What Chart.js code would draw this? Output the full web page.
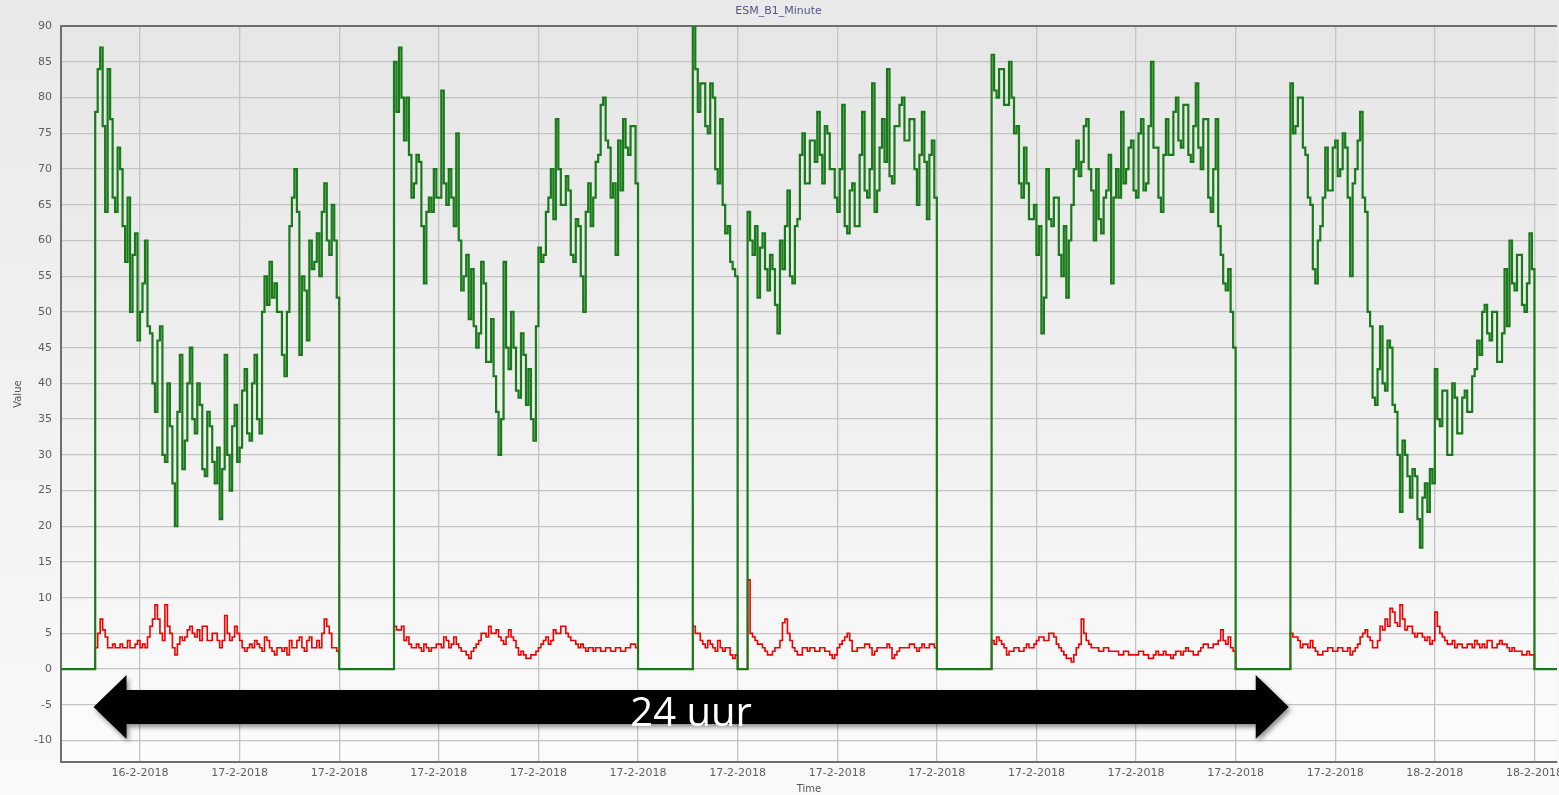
<!DOCTYPE html>
<html>
<head>
<meta charset="utf-8">
<title>ESM_B1_Minute</title>
<script src="https://cdn.jsdelivr.net/npm/chart.js@4.4.1/dist/chart.umd.min.js"></script>
<style>
    html, body { margin: 0; padding: 0; }
    body { width: 1559px; height: 795px; overflow: hidden; background: linear-gradient(#e9e9e9, #f9f9f9); }
</style>
</head>
<body>
<canvas id="chart" width="1559" height="795"></canvas>
<script>
// Minute log, every 3 minutes (t in minutes, t=0 is 16-2 20:00)
const sampleStart = 24;
const sampleStep = 3;

// green series
const greenValues = [
    0, 0, 0, 0, 0, 0, 0, 0, 0, 0, 0, 0, 0, 0,
    78, 84, 87, 76, 64, 84, 77, 66, 64, 73, 70, 62, 57, 66, 50, 58, 61, 46, 50, 54, 60, 48, 47, 40, 36, 46, 48, 30, 29, 40, 34, 26, 20, 36,
    44, 28, 32, 40, 45, 35, 33, 40, 37, 28, 27, 36, 34, 29, 26, 31, 21, 28, 44, 30, 25, 34, 37, 29, 31, 39, 42, 33, 32, 40, 44, 35, 33, 50,
    55, 51, 57, 52, 54, 50, 50, 44, 41, 50, 62, 66, 70, 64, 44, 55, 53, 46, 60, 56, 57, 61, 55, 64, 68, 60, 58, 65, 60, 52,
    0, 0, 0, 0, 0, 0, 0, 0, 0, 0, 0, 0, 0, 0, 0, 0, 0, 0, 0, 0, 0, 0,
    85, 78, 87, 80, 74, 80, 72, 66, 68, 72, 71, 62, 54, 64, 66, 64, 70, 66, 66, 81, 68, 65, 70, 66, 62, 75, 60, 53, 55, 58, 49, 56, 48, 45,
    47, 57, 54, 43, 43, 49, 41, 36, 30, 35, 57, 45, 42, 50, 45, 39, 38, 47, 44, 37, 42, 35, 32, 48, 59, 57, 58, 64, 66, 70, 63, 77, 70, 65,
    65, 69, 67, 58, 57, 63, 62, 55, 50, 64, 68, 62, 66, 71, 72, 79, 80, 74, 73, 66, 68, 58, 74, 67, 77, 73, 72, 76, 76, 68,
    0, 0, 0, 0, 0, 0, 0, 0, 0, 0, 0, 0, 0, 0, 0, 0, 0, 0, 0, 0, 0, 0,
    90, 84, 78, 82, 82, 76, 75, 82, 80, 70, 68, 77, 65, 61, 62, 57, 56, 55,
    0, 0, 0, 0,
    64, 60, 58, 62, 52, 59, 61, 56, 53, 58, 56, 51, 47, 60, 56, 62, 67, 55, 54, 62, 63, 72, 75, 68, 68, 74, 74, 71, 78, 72, 68, 76, 75, 70,
    70, 66, 64, 70, 79, 62, 61, 67, 68, 62, 62, 72, 78, 67, 66, 70, 82, 64, 67, 73, 77, 71, 84, 69, 68, 76, 76, 79, 80, 74, 74, 77, 77, 70,
    65, 72, 78, 71, 63, 72, 74, 66,
    0, 0, 0, 0, 0, 0, 0, 0, 0, 0, 0, 0, 0, 0, 0, 0, 0, 0, 0, 0, 0, 0,
    86, 81, 80, 84, 84, 79, 79, 85, 80, 75, 76, 68, 66, 73, 68, 63, 63, 65, 58, 62, 47, 52, 70, 63, 62, 66, 66, 58, 55, 62, 52, 60, 65, 70,
    74, 69, 71, 76, 77, 70, 67, 60, 70, 63, 61, 66, 67, 72, 54, 66, 70, 66, 78, 68, 70, 73, 74, 67, 66, 75, 77, 67, 68, 76, 85, 73, 73, 66,
    64, 72, 77, 72, 72, 78, 80, 74, 73, 79, 79, 72, 71, 76, 82, 73, 70, 77, 77, 66, 64, 70, 77, 62, 58, 54, 53, 56, 50, 45,
    0, 0, 0, 0, 0, 0, 0, 0, 0, 0, 0, 0, 0, 0, 0, 0, 0, 0, 0, 0, 0, 0,
    82, 75, 76, 80, 80, 73, 72, 66, 65, 56, 54, 60, 62, 66, 73, 67, 67, 73, 74, 69, 70, 75, 73, 66, 55, 68, 70, 74, 78, 66, 64, 50, 48, 38,
    37, 42, 48, 40, 39, 46, 45, 37, 36, 30, 22, 32, 30, 27, 24, 28, 27, 21, 17, 24, 26, 22, 28, 26, 42, 35, 34, 39, 39, 30, 30, 40, 38, 33,
    33, 38, 39, 36, 36, 41, 42, 46, 44, 50, 51, 47, 46, 50, 50, 43, 43, 47, 56, 48, 60, 54, 53, 58, 58, 51, 50, 54, 61, 56,
    0, 0, 0, 0, 0, 0, 0, 0, 0, 0, 0, 0
];

// red series
const redValues = [
    0, 0, 0, 0, 0, 0, 0, 0, 0, 0, 0, 0, 0, 0,
    3, 5, 7, 5.5, 4.5, 3, 3, 3.5, 3, 3, 3.5, 3, 3, 4, 3, 3, 3.5, 4, 3, 3.5, 3, 4.5, 6, 7, 9, 7, 5, 4, 9, 6, 5, 3, 2, 3.5,
    4.5, 4, 4.5, 5.5, 6, 5, 4.5, 5.5, 4, 6, 6, 4, 4, 5, 5, 4, 3, 4, 7.5, 5, 4, 4.5, 6, 5, 4, 3, 2.5, 3, 3.5, 3, 4, 3.5,
    3, 2.5, 4.5, 4, 3, 2.5, 2, 3, 3, 2.5, 3, 2, 4, 3, 3, 4, 4.5, 3, 2.5, 4, 4.5, 3, 3, 4, 3, 5, 7, 6, 5, 3, 3, 2.5,
    0, 0, 0, 0, 0, 0, 0, 0, 0, 0, 0, 0, 0, 0, 0, 0, 0, 0, 0, 0, 0, 0,
    6, 5.5, 5.5, 6, 4, 4.5, 3.5, 3, 3, 3.5, 3, 2.5, 3.5, 3, 2.5, 3, 3, 3.5, 3.5, 3, 4.5, 4, 3, 3.5, 4.5, 3.5, 3, 2.5, 2.5, 2, 1.5, 2.5, 3, 3.5,
    4, 5, 5, 4.5, 6, 5, 5, 5.5, 4.5, 4, 3.5, 4.5, 5.5, 4.5, 4, 3, 2, 2.5, 2, 1.5, 1.5, 2, 2, 2.5, 3, 3.5, 4, 4.5, 3.5, 4, 5.5, 5, 5, 6,
    6, 5, 4.5, 4, 4, 3.5, 3, 3.5, 3, 2.5, 3, 3, 2.5, 3, 3, 2.5, 2.5, 3, 3, 2.5, 2.5, 3, 3, 2.5, 2.5, 3, 3, 3.5, 3.5, 3,
    0, 0, 0, 0, 0, 0, 0, 0, 0, 0, 0, 0, 0, 0, 0, 0, 0, 0, 0, 0, 0, 0,
    6, 5, 5, 4, 3.5, 3, 4, 3.5, 3, 2.5, 4, 3, 2.5, 3, 3, 2, 1.5, 2,
    0, 0, 0, 0,
    12.5, 5, 4.5, 4, 3.5, 3.5, 3, 2.5, 2, 2, 2.5, 3, 3, 4, 6.5, 7, 5, 4, 3, 2.5, 2, 2, 3, 3, 2.5, 3, 3, 2.5, 2.5, 3, 3, 2.5, 2.5, 2,
    1.5, 2, 3, 3.5, 4, 4.5, 5, 4, 2.5, 2.5, 3, 3, 3, 3.5, 3.5, 3, 2, 2.5, 3, 3, 3, 3, 3.5, 3, 1.5, 2, 2.5, 3, 3, 3, 3, 3.5, 3.5, 3,
    2.5, 3, 3.5, 3, 3, 3.5, 3.5, 3,
    0, 0, 0, 0, 0, 0, 0, 0, 0, 0, 0, 0, 0, 0, 0, 0, 0, 0, 0, 0, 0, 0,
    4, 3.5, 4.5, 4, 3.5, 3, 2, 2.5, 2.5, 3, 3, 2.5, 2.5, 3, 3.5, 3, 3, 3.5, 4, 4.5, 4.5, 4, 4, 5, 5, 4.5, 3.5, 3, 2.5, 2, 1.5, 1.5, 1, 2,
    3, 3.5, 7, 5, 4, 3.5, 3, 3, 3, 2.5, 2.5, 3, 3, 2.5, 2.5, 2.5, 2.5, 2, 2, 2.5, 2.5, 2, 2, 2, 2, 2.5, 2.5, 2, 2, 1.5, 1.5, 2, 2.5, 2,
    2, 2.5, 2, 2, 1.5, 2, 2.5, 2.5, 2, 2.5, 3, 2.5, 2.5, 2, 2, 2.5, 3, 3.5, 3.5, 3, 3, 3.5, 3.5, 4, 5.5, 4, 3.5, 4.5, 3, 2.5,
    0, 0, 0, 0, 0, 0, 0, 0, 0, 0, 0, 0, 0, 0, 0, 0, 0, 0, 0, 0, 0, 0,
    5, 4.5, 4.5, 4, 3, 3.5, 3.5, 3, 4, 3, 2.5, 2, 2, 2.5, 2.5, 3, 3, 2.5, 2.5, 3, 3, 2.5, 2.5, 3, 2, 2.5, 3, 3.5, 4.5, 5, 5.5, 4.5, 4, 3,
    3, 4, 6, 5.5, 7, 6, 8.5, 8, 6.5, 6, 9, 7, 5.5, 6, 6, 5, 4.5, 5, 5, 4.5, 4, 4.5, 3.5, 4, 8, 6, 5, 4.5, 4, 3.5, 3.5, 4, 3, 3.5,
    3.5, 3, 3, 3.5, 3.5, 3, 4, 3.5, 3, 3.5, 3, 4, 4, 3, 3, 3.5, 4, 3.5, 3.5, 3, 2.5, 3, 2.5, 2.5, 2.5, 2, 2, 2.5, 2, 2,
    0, 0, 0, 0, 0, 0, 0, 0, 0, 0, 0, 0
];

// x axis: a grid line every 2 hours
const xTickValues = [120, 240, 360, 480, 600, 720, 840, 960, 1080, 1200, 1320, 1440, 1560, 1680, 1800];
const xTickLabels = ['16-2-2018', '17-2-2018', '17-2-2018', '17-2-2018', '17-2-2018', '17-2-2018', '17-2-2018',
    '17-2-2018', '17-2-2018', '17-2-2018', '17-2-2018', '17-2-2018', '17-2-2018', '18-2-2018', '18-2-2018'];
const yTickValues = [-10, -5, 0, 5, 10, 15, 20, 25, 30, 35, 40, 45, 50, 55, 60, 65, 70, 75, 80, 85, 90];

// the "24 uur" arrow
const arrowFrom = 64;
const arrowTo = 64 + 24 * 60;
const arrowLevel = -5.3;
const arrowText = '24 uur';

const toPoints = vals => vals.map((v, i) => ({ x: sampleStart + i * sampleStep, y: v }));

const plotBackground = {
    id: 'plotBackground',
    beforeDraw(chart) {
        const { ctx, chartArea: a } = chart;
        const g = ctx.createLinearGradient(0, a.top, 0, a.bottom);
        g.addColorStop(0, '#e6e6e6');
        g.addColorStop(0.5, '#efefef');
        g.addColorStop(1, '#fcfcfc');
        ctx.save();
        ctx.fillStyle = g;
        ctx.fillRect(a.left, a.top, a.right - a.left, a.bottom - a.top);
        ctx.restore();
    }
};

const arrowPlugin = {
    id: 'arrow',
    afterDraw(chart) {
        const { ctx, scales: { x, y } } = chart;
        const x0 = x.getPixelForValue(arrowFrom);
        const x1 = x.getPixelForValue(arrowTo);
        const yc = y.getPixelForValue(arrowLevel);
        const shaft = 17, head = 32, headLen = 33;
        ctx.save();
        ctx.shadowColor = 'rgba(0,0,0,0.45)';
        ctx.shadowBlur = 5;
        ctx.shadowOffsetX = 2;
        ctx.shadowOffsetY = 3;
        ctx.fillStyle = '#000';
        ctx.beginPath();
        ctx.moveTo(x0, yc);
        ctx.lineTo(x0 + headLen, yc - head);
        ctx.lineTo(x0 + headLen, yc - shaft);
        ctx.lineTo(x1 - headLen, yc - shaft);
        ctx.lineTo(x1 - headLen, yc - head);
        ctx.lineTo(x1, yc);
        ctx.lineTo(x1 - headLen, yc + head);
        ctx.lineTo(x1 - headLen, yc + shaft);
        ctx.lineTo(x0 + headLen, yc + shaft);
        ctx.lineTo(x0 + headLen, yc + head);
        ctx.closePath();
        ctx.fill();
        ctx.restore();

        ctx.save();
        ctx.fillStyle = '#fff';
        ctx.font = '40px "Open Sans"';
        ctx.textAlign = 'center';
        ctx.textBaseline = 'alphabetic';
        ctx.fillText(arrowText, (x0 + x1) / 2, yc + 19);
        ctx.restore();
    }
};

const tickFont = { family: 'DejaVu Sans', size: 11 };

new Chart(document.getElementById('chart'), {
    type: 'line',
    data: {
        datasets: [
            { data: toPoints(greenValues), borderColor: '#197a19', borderWidth: 2.2, stepped: true, pointRadius: 0, fill: false },
            { data: toPoints(redValues), borderColor: '#f20000', borderWidth: 1.6, stepped: true, pointRadius: 0, fill: false }
        ]
    },
    options: {
        responsive: false,
        animation: false,
        parsing: false,
        layout: { padding: { top: 0, right: 2, bottom: 0, left: 0 } },
        plugins: {
            legend: { display: false },
            tooltip: { enabled: false },
            title: {
                display: true,
                text: 'ESM_B1_Minute',
                color: '#55558a',
                font: { family: 'DejaVu Sans', size: 11, weight: 'normal' },
                padding: { top: 5, bottom: 8 }
            }
        },
        scales: {
            x: {
                type: 'linear',
                min: 24.8,
                max: 1827.2,
                afterBuildTicks: s => { s.ticks = xTickValues.map(v => ({ value: v })); },
                afterFit: s => { s.height = 33; s.paddingLeft = 0; s.paddingRight = 0; },
                ticks: {
                    autoSkip: false,
                    maxRotation: 0,
                    padding: 5,
                    color: '#5e5e5e',
                    font: tickFont,
                    callback: (v, i) => xTickLabels[i]
                },
                grid: { color: '#c4c4c4', lineWidth: 1.3, drawTicks: false },
                border: { color: '#6e6e6e', width: 2 },
                title: { display: true, text: 'Time', color: '#555', font: { family: 'DejaVu Sans', size: 10 }, padding: { top: 0, bottom: 0 } }
            },
            y: {
                min: -13,
                max: 90,
                afterBuildTicks: s => { s.ticks = yTickValues.map(v => ({ value: v })); },
                afterFit: s => { s.width = 61; s.paddingTop = 0; s.paddingBottom = 0; },
                ticks: { padding: 9, color: '#5e5e5e', font: tickFont },
                grid: {
                    color: c => (c.tick && c.tick.value === 90) ? '#6e6e6e' : '#c4c4c4',
                    lineWidth: c => (c.tick && c.tick.value === 90) ? 2 : 1.3,
                    drawTicks: false
                },
                border: { color: '#6e6e6e', width: 2 },
                title: { display: true, text: 'Value', color: '#555', font: { family: 'DejaVu Sans', size: 10 }, padding: { top: 12, bottom: 0 } }
            }
        }
    },
    plugins: [plotBackground, arrowPlugin]
});
</script>
</body>
</html>
